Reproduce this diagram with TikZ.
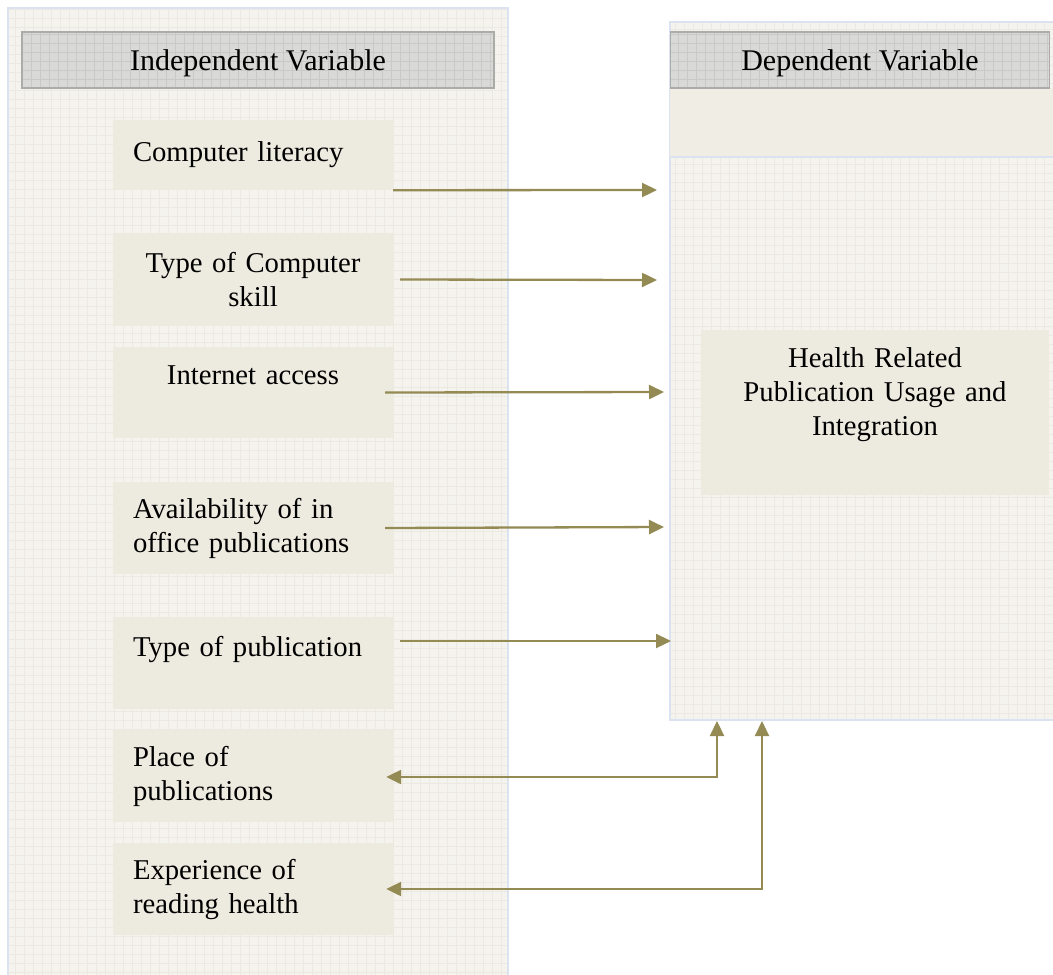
\documentclass[tikz,border=0pt]{standalone}
\usepackage{fontspec}
\setmainfont{Liberation Serif}
\usetikzlibrary{arrows.meta}
\definecolor{paper}{HTML}{F4F3EE}
\definecolor{paperline}{HTML}{EBE9E1}
\definecolor{bandfill}{HTML}{EFEDE4}
\definecolor{boxfill}{HTML}{EDEBE0}
\definecolor{headfill}{HTML}{D9D9D7}
\definecolor{headline}{HTML}{C9C9C7}
\definecolor{frame}{HTML}{DAE3EF}
\definecolor{olive}{HTML}{948A54}
\begin{document}
\begin{tikzpicture}[
    x=1pt, y=-1pt,
    font=\fontsize{28.7}{34}\selectfont,
    panel/.style={rectangle, fill=paper, draw=frame, line width=1.5pt, inner sep=0pt,
        path picture={\draw[paperline, line width=0.6pt, step=9pt]
            (path picture bounding box.south west) grid (path picture bounding box.north east);}},
    header/.style={rectangle, fill=headfill, draw=headline!85!black, line width=1.5pt,
        minimum height=56pt, inner sep=0pt, text height=21pt, text depth=1pt,
        font=\fontsize{30}{34}\selectfont,
        path picture={\draw[headline, line width=0.6pt, step=9pt]
            (path picture bounding box.south west) grid (path picture bounding box.north east);}},
    block/.style={rectangle, fill=boxfill, inner sep=0pt, minimum width=280pt, text width=240pt},
    link/.style={olive, line width=2.3pt},
    >={Triangle[length=15pt,width=14pt]}
]
\useasboundingbox[fill=white] (0,0) rectangle (1053,975);

% Rahmen
\node[panel, minimum width=500pt, minimum height=975pt] at (258,495.5) (left) {};
\node[panel, minimum width=388pt, minimum height=698pt] at (864,371) (right) {};
\fill[bandfill] (670,88) rectangle (1053,157);
\draw[frame, line width=1.5pt] (670,157) -- (1053,157);

% Kopfzeilen
\node[header, minimum width=472pt] at (258,60) (indep) {Independent Variable};
\node[header, minimum width=379pt] at (860,60) (dep) {Dependent Variable};

% unabhaengige Variablen
\node[block, minimum height=70pt, align=left] at (253,155) (literacy) {Computer literacy};
\node[block, minimum height=93pt, align=center] at (253,279.5) (skill) {Type of Computer\\skill};
\node[block, minimum height=91pt, align=center] at (253,392.5) (internet) {Internet access\\\mbox{}};
\node[block, minimum height=92pt, align=left] at (253,528) (avail) {Availability of in\\office publications};
\node[block, minimum height=92pt, align=left] at (253,663) (pubtype) {Type of publication\\\mbox{}};
\node[block, minimum height=92pt, align=left] at (253,776) (place) {Place of\\publications};
\node[block, minimum height=92pt, align=left] at (253,889) (reading) {Experience of\\reading health};

% abhaengige Variable
\node[block, minimum width=348pt, minimum height=165pt, text width=320pt, align=center]
    at (875,412.5) (usage) {Health Related\\Publication Usage and\\Integration\\[8pt]\mbox{}};

% Pfeilenden
\coordinate (e1) at (657,190);
\coordinate (e2) at (657,280);
\coordinate (e3) at (664,392);
\coordinate (e4) at (664,527);
\coordinate (e5) at (671,641);
\coordinate (u1) at (717,721);
\coordinate (u2) at (762,721);

% Verbindungspfeile
\draw[link, ->] (literacy.south east) -- (e1);
\draw[link, ->] ([xshift=7pt]skill.east) -- (e2);
\draw[link, ->] ([xshift=-8pt]internet.east) -- (e3);
\draw[link, ->] ([xshift=-8pt]avail.east) -- (e4);
\draw[link, ->] ([xshift=7pt,yshift=22pt]pubtype.east) -- (e5);
\draw[link, <->] ([xshift=-7pt,yshift=-1pt]place.east) -| (u1);
\draw[link, <->] ([xshift=-7pt]reading.east) -| (u2);
\end{tikzpicture}
\end{document}
